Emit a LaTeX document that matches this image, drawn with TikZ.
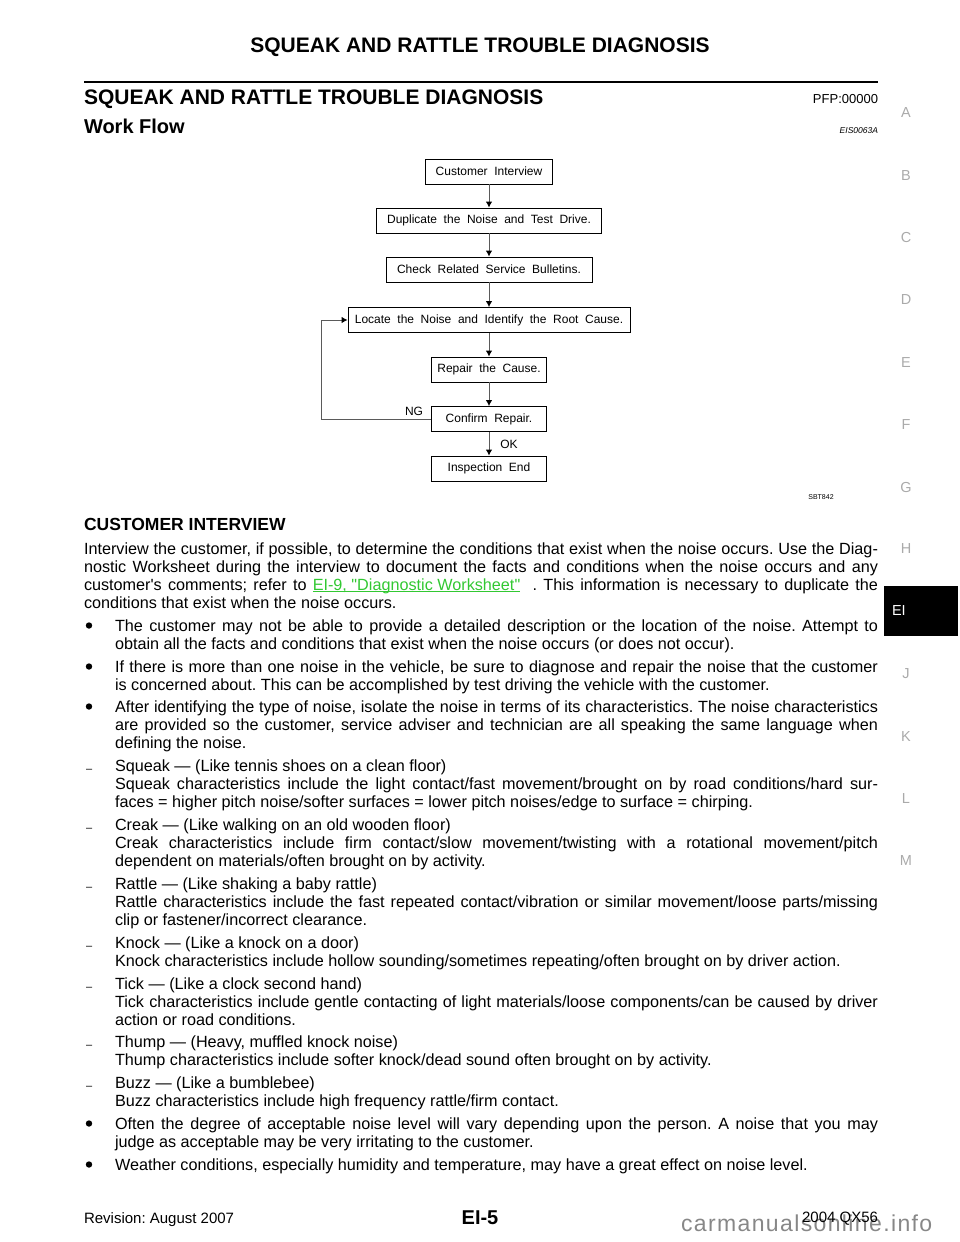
\documentclass[tikz,border=0pt]{standalone}
\usepackage{fontspec}
\setmainfont{Liberation Sans}[Ligatures=TeXOff]
\newfontfamily\wmfont{Liberation Sans}[LetterSpace=6]
\usetikzlibrary{arrows.meta}
\definecolor{tabgray}{RGB}{170,170,170}
\definecolor{linkgreen}{RGB}{50,200,50}
\definecolor{wmgray}{RGB}{135,135,135}
\definecolor{flowline}{RGB}{90,90,90}
\newcommand\fsz[1]{\fontsize{#1}{#1}\selectfont}
\newcommand\JL[2]{\hbox to #1{\spaceskip=0.278em plus 1fil minus 0.15em\relax #2}}
\newcommand\lnk[1]{\textcolor{linkgreen}{\setbox0\hbox{#1}\rlap{\rule[-2pt]{\wd0}{0.9pt}}\box0}}
\begin{document}
\begin{tikzpicture}[x=1pt,y=-1pt,
 txt/.style={inner sep=0,outer sep=0},
 bodyline/.style={txt,anchor=base west,font={\fontsize{16.2}{18}\selectfont\frenchspacing}},
 bul/.style={circle,fill=black,inner sep=0,minimum size=6.4},
 dsh/.style={txt,anchor=base west,font=\fsz{11}},
 tab/.style={txt,text=tabgray,font=\fsz{14.5}},
 flowbox/.style={draw,line width=0.9,minimum height=25,inner sep=0,font={\fsz{12}\spaceskip=0.55em\relax}},
 arr/.style={draw=flowline,line width=0.9,-{Latex[length=6,width=6.5,color=black]}},
 flowlbl/.style={txt,font=\fsz{12}}
]
\useasboundingbox (0,0) rectangle (960,1242);

% header
\node[txt,anchor=base,font=\bfseries\fsz{21}] (hdr) at (480,52) {SQUEAK AND RATTLE TROUBLE DIAGNOSIS};
\coordinate (rl) at (84,82);
\coordinate (rr) at (878,82);
\draw[line width=2.6] (rl) -- (rr);
\node[txt,anchor=base west,font=\bfseries\fsz{21}] (ttl) at (84,104) {SQUEAK AND RATTLE TROUBLE DIAGNOSIS};
\node[txt,anchor=base east,font=\fsz{13}] (pfp) at (878,103) {PFP:00000};
\node[txt,anchor=base west,font=\bfseries\fsz{20}] (wf) at (84,133) {Work Flow};
\node[txt,anchor=base east,font=\itshape\fsz{8.5}] (eis) at (878,133) {EIS0063A};

% side tabs
\node[tab] (ta) at (906,113) {A};
\node[tab] (tb) at (906,176) {B};
\node[tab] (tc) at (906,238) {C};
\node[tab] (td) at (906,300) {D};
\node[tab] (te) at (906,363) {E};
\node[tab] (tf) at (906,425) {F};
\node[tab] (tg) at (906,488) {G};
\node[tab] (th) at (906,549) {H};
\node[fill=black,minimum width=74,minimum height=50,inner sep=0] (eibox) at (921,611) {};
\node[txt,anchor=west,text=white,font=\fsz{14.5}] (eitxt) at (892,611) {EI};
\node[tab] (tj) at (906,674) {J};
\node[tab] (tk) at (906,737) {K};
\node[tab] (tl) at (906,799) {L};
\node[tab] (tm) at (906,861) {M};

% flowchart
\node[flowbox,minimum width=127] (b1) at (489,171.5) {Customer Interview};
\node[flowbox,minimum width=225] (b2) at (489,220.5) {Duplicate the Noise and Test Drive.};
\node[flowbox,minimum width=206] (b3) at (489,269.5) {Check Related Service Bulletins.};
\node[flowbox,minimum width=282] (b4) at (489,320) {Locate the Noise and Identify the Root Cause.};
\node[flowbox,minimum width=115] (b5) at (489,369.5) {Repair the Cause.};
\node[flowbox,minimum width=115] (b6) at (489,419) {Confirm Repair.};
\node[flowbox,minimum width=115] (b7) at (489,468.5) {Inspection End};
\draw[arr] (b1) -- (b2);
\draw[arr] (b2) -- (b3);
\draw[arr] (b3) -- (b4);
\draw[arr] (b4) -- (b5);
\draw[arr] (b5) -- (b6);
\draw[arr] (b6) -- (b7);
\coordinate (lp) at (321,419);
\draw[arr] (b6.west) -- (lp) |- (b4.west);
\node[flowlbl] (ng) at (414,411) {NG};
\node[flowlbl] (ok) at (509,444) {OK};
\node[txt,font=\fsz{7}] (sbt) at (821,497) {SBT842};

% customer interview
\node[txt,anchor=base west,font=\bfseries\fsz{17.5}] (ci) at (84,530) {CUSTOMER INTERVIEW};

\node[bodyline] (p1) at (84,554) {\JL{794pt}{Interview the customer, if possible, to determine the conditions that exist when the noise occurs. Use the Diag-}};
\node[bodyline] (p2) at (84,572) {\JL{794pt}{nostic Worksheet during the interview to document the facts and conditions when the noise occurs and any}};
\node[bodyline] (p3) at (84,590) {\JL{794pt}{customer's comments; refer to \lnk{EI-9, "Diagnostic Worksheet"}\ \ . This information is necessary to duplicate the}};
\node[bodyline] (p4) at (84,608) {conditions that exist when the noise occurs.};

\node[bul] (u1) at (89,625.5) {};
\node[bodyline] (a1) at (115,631) {\JL{763pt}{The customer may not be able to provide a detailed description or the location of the noise. Attempt to}};
\node[bodyline] (a2) at (115,649) {obtain all the facts and conditions that exist when the noise occurs (or does not occur).};

\node[bul] (u2) at (89,666.5) {};
\node[bodyline] (c1) at (115,672) {\JL{763pt}{If there is more than one noise in the vehicle, be sure to diagnose and repair the noise that the customer}};
\node[bodyline] (c2) at (115,690) {is concerned about. This can be accomplished by test driving the vehicle with the customer.};

\node[bul] (u3) at (89,706.5) {};
\node[bodyline] (d1) at (115,712) {\JL{763pt}{After identifying the type of noise, isolate the noise in terms of its characteristics. The noise characteristics}};
\node[bodyline] (d2) at (115,730) {\JL{763pt}{are provided so the customer, service adviser and technician are all speaking the same language when}};
\node[bodyline] (d3) at (115,748) {defining the noise.};

\node[dsh] (s0) at (86,772) {–};
\node[bodyline] (s1) at (115,771) {Squeak — (Like tennis shoes on a clean floor)};
\node[bodyline] (s2) at (115,789) {\JL{763pt}{Squeak characteristics include the light contact/fast movement/brought on by road conditions/hard sur-}};
\node[bodyline] (s3) at (115,807) {faces = higher pitch noise/softer surfaces = lower pitch noises/edge to surface = chirping.};

\node[dsh] (k0) at (86,831) {–};
\node[bodyline] (k1) at (115,830) {Creak — (Like walking on an old wooden floor)};
\node[bodyline] (k2) at (115,848) {\JL{763pt}{Creak characteristics include firm contact/slow movement/twisting with a rotational movement/pitch}};
\node[bodyline] (k3) at (115,866) {dependent on materials/often brought on by activity.};

\node[dsh] (r0) at (86,890) {–};
\node[bodyline] (r1) at (115,889) {Rattle — (Like shaking a baby rattle)};
\node[bodyline] (r2) at (115,907) {\JL{763pt}{Rattle characteristics include the fast repeated contact/vibration or similar movement/loose parts/missing}};
\node[bodyline] (r3) at (115,925) {clip or fastener/incorrect clearance.};

\node[dsh] (n0) at (86,949) {–};
\node[bodyline] (n1) at (115,948) {Knock — (Like a knock on a door)};
\node[bodyline] (n2) at (115,966) {Knock characteristics include hollow sounding/sometimes repeating/often brought on by driver action.};

\node[dsh] (i0) at (86,990) {–};
\node[bodyline] (i1) at (115,989) {Tick — (Like a clock second hand)};
\node[bodyline] (i2) at (115,1007) {\JL{763pt}{Tick characteristics include gentle contacting of light materials/loose components/can be caused by driver}};
\node[bodyline] (i3) at (115,1025) {action or road conditions.};

\node[dsh] (h0) at (86,1048) {–};
\node[bodyline] (h1) at (115,1047) {Thump — (Heavy, muffled knock noise)};
\node[bodyline] (h2) at (115,1065) {Thump characteristics include softer knock/dead sound often brought on by activity.};

\node[dsh] (z0) at (86,1089) {–};
\node[bodyline] (z1) at (115,1088) {Buzz — (Like a bumblebee)};
\node[bodyline] (z2) at (115,1106) {Buzz characteristics include high frequency rattle/firm contact.};

\node[bul] (u4) at (89,1123.5) {};
\node[bodyline] (e1) at (115,1129) {\JL{763pt}{Often the degree of acceptable noise level will vary depending upon the person. A noise that you may}};
\node[bodyline] (e2) at (115,1147) {judge as acceptable may be very irritating to the customer.};

\node[bul] (u5) at (89,1164.5) {};
\node[bodyline] (w1) at (115,1170) {Weather conditions, especially humidity and temperature, may have a great effect on noise level.};

% footer
\node[txt,anchor=base west,text=wmgray,font={\wmfont\fsz{23}}] (wm) at (681,1231) {carmanualsonline.info};
\node[txt,anchor=base west,font={\fsz{15}\frenchspacing}] (rev) at (84,1223) {Revision: August 2007};
\node[txt,anchor=base,font=\bfseries\fsz{20}] (pg) at (480,1224) {EI-5};
\node[txt,anchor=base east,font=\fsz{15}] (mdl) at (878,1222) {2004 QX56};
\end{tikzpicture}
\end{document}
